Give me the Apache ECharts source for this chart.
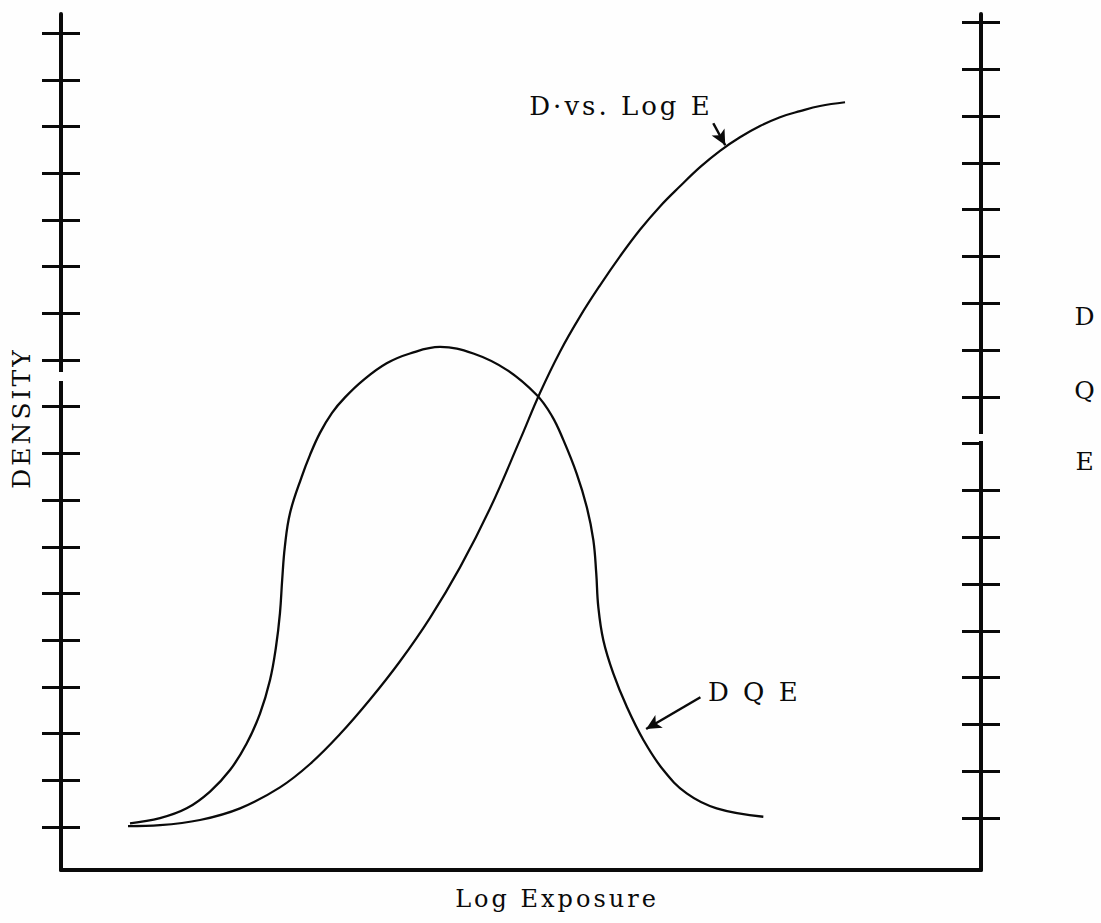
<!DOCTYPE html>
<html>
<head>
<meta charset="utf-8">
<script src="https://cdn.jsdelivr.net/npm/echarts@6/dist/echarts.min.js"></script>
<style>
html,body{margin:0;padding:0;background:#fff;}
#chart{width:1101px;height:923px;}
#chart svg text{letter-spacing:3px;}
</style>
</head>
<body>
<div id="chart"></div>
<script>
// Log exposure (arbitrary units 0-100) and density (tick units)
const dLogX = [7.28, 10.76, 15.11, 19.46, 23.80, 27.07, 30.33, 33.59, 36.85, 40.11, 43.37, 46.63, 49.89, 52.07, 54.24, 56.41, 58.59, 60.76, 62.93, 65.11, 67.28, 69.46, 71.63, 73.80, 75.98, 78.15, 80.33, 82.50, 85.22];
const dLogY = [1.02, 1.04, 1.15, 1.40, 1.85, 2.35, 2.99, 3.73, 4.55, 5.48, 6.56, 7.82, 9.29, 10.30, 11.18, 11.93, 12.60, 13.22, 13.79, 14.29, 14.72, 15.13, 15.48, 15.77, 16.01, 16.20, 16.33, 16.44, 16.52];

const dqeX = [7.50, 10.76, 13.66, 16.20, 18.37, 20.18, 21.63, 22.72, 23.37, 23.80, 24.04, 24.33, 24.89, 26.16, 27.07, 28.15, 29.46, 30.87, 32.86, 35.40, 37.93, 41.20, 44.82, 48.45, 51.71, 53.37, 54.60, 56.05, 57.14, 57.86, 58.18, 58.40, 58.95, 60.03, 61.49, 63.29, 65.47, 68.01, 71.27, 76.34];
const dqeY = [1.08, 1.19, 1.40, 1.76, 2.22, 2.79, 3.43, 4.15, 4.86, 5.58, 6.29, 7.00, 7.72, 8.50, 8.97, 9.44, 9.87, 10.20, 10.57, 10.93, 11.14, 11.28, 11.14, 10.79, 10.25, 9.80, 9.29, 8.57, 7.86, 7.15, 6.43, 5.72, 5.00, 4.29, 3.58, 2.87, 2.22, 1.72, 1.40, 1.22];

const leftTicks = [1,2,3,4,5,6,7,8,9,10,11,12,13,14,15,16,17,18];
const rightInnerTicks = [1,2,3,4,5,6,7,8,9,10,11,12,13,14,15,16,17,18];
const rightOuterTicks = [1,2,3,4,5,6,7,8,10,11,12,13,14,15,16,17,18];

const dLogArrow = [[70.9, 16.07], [72.2, 15.6]];
const dqeArrow = [[69.5, 3.78], [63.6, 3.1]];

const xTitle = 'Log Exposure';
const yTitle = 'DENSITY';
const rightTitle = ['D', 'Q', 'E'];
const dLogLabel = 'D\u00b7vs. Log E';
const dqeLabel = 'D Q E';

const zip = (xs, ys) => xs.map((x, i) => [x, ys[i]]);
const ink = '#0a0a0a';
const serif = 'DejaVu Serif';

const chart = echarts.init(document.getElementById('chart'), null, { renderer: 'svg' });

function tickAxis(pos, min, max, ticks, inside, showLine) {
  return {
    type: 'value', position: pos, min: min, max: max, offset: 0,
    axisLine: { show: showLine, onZero: false, lineStyle: { color: ink, width: 4 } },
    axisTick: { show: true, inside: inside, length: 19, customValues: ticks, lineStyle: { color: ink, width: 3 } },
    axisLabel: { show: false },
    splitLine: { show: false }
  };
}

const arrowLine = (pts) => ({
  silent: true,
  symbol: ['none', 'arrow'],
  symbolSize: [11, 15],
  lineStyle: { color: ink, width: 2.5, type: 'solid' },
  label: { show: false },
  emphasis: { disabled: true },
  data: [[{ coord: pts[0] }, { coord: pts[1] }]]
});

const txt = (x, y, text, size, align, rot) => ({
  type: 'text', x: x, y: y, rotation: rot || 0, silent: true,
  style: { text: text, fontFamily: serif, fontSize: size, fill: ink, align: align, verticalAlign: 'middle' }
});

chart.setOption({
  backgroundColor: '#fefefe',
  animation: false,
  grid: { left: 61, right: 120, top: 14, bottom: 53 },
  xAxis: {
    type: 'value', min: 0, max: 100,
    axisLine: { show: true, onZero: false, lineStyle: { color: ink, width: 4 } },
    axisTick: { show: false }, axisLabel: { show: false }, splitLine: { show: false }
  },
  yAxis: [
    tickAxis('left', 0.08, 18.41, leftTicks, false, true),
    tickAxis('left', 0.08, 18.41, leftTicks, true, false),
    tickAxis('right', -0.11, 18.18, rightOuterTicks, false, true),
    tickAxis('right', -0.11, 18.18, rightInnerTicks, true, false)
  ],
  series: [
    {
      name: 'D vs. Log E', type: 'line', yAxisIndex: 0, smooth: 0.4, showSymbol: false,
      lineStyle: { color: ink, width: 2.2 }, data: zip(dLogX, dLogY),
      markLine: arrowLine(dLogArrow)
    },
    {
      name: 'DQE', type: 'line', yAxisIndex: 0, smooth: 0.4, showSymbol: false,
      lineStyle: { color: ink, width: 2.3 }, data: zip(dqeX, dqeY),
      markLine: arrowLine(dqeArrow)
    }
  ],
  graphic: [
    // small breaks in the scanned axis lines
    { type: 'rect', shape: { x: 54, y: 372, width: 14, height: 9 }, style: { fill: '#fefefe' }, z: 100, silent: true },
    { type: 'rect', shape: { x: 974, y: 434, width: 14, height: 7 }, style: { fill: '#fefefe' }, z: 100, silent: true },
    txt(557, 899, xTitle, 24, 'center'),
    txt(21, 418, yTitle, 25, 'center', Math.PI / 2),
    txt(1086, 316, rightTitle[0], 25, 'center'),
    txt(1086, 390, rightTitle[1], 25, 'center'),
    txt(1086, 461, rightTitle[2], 25, 'center'),
    txt(621, 106, dLogLabel, 26, 'center'),
    txt(708, 692, dqeLabel, 26, 'left')
  ]
});
</script>
</body>
</html>
